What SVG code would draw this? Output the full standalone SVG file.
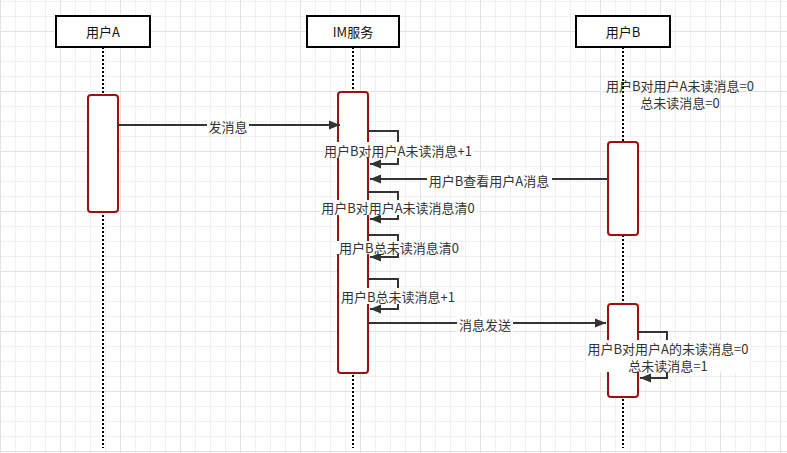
<svg xmlns="http://www.w3.org/2000/svg" width="787" height="453" viewBox="0 0 787 453">
<style>
text{font-family:"Noto Sans CJK SC","Noto Sans",sans-serif;font-size:13px;fill:#333;text-anchor:middle;dominant-baseline:central}
.title{fill:#111}
.head{fill:#fff;stroke:#000;stroke-width:2}
.life{stroke:#000;stroke-width:2;stroke-dasharray:2 2;fill:none}
.act{fill:#fff;stroke:#9b1111;stroke-width:2}
.msg{fill:none;stroke:#333;stroke-width:2;marker-end:url(#arr)}
.bg{fill:#fff}
</style>
<defs>
<pattern id="gMinor" patternUnits="userSpaceOnUse" x="0" y="1" width="15" height="15">
<path d="M0.5 0V15M0 0.5H15" stroke="#f0f0f0" stroke-width="1" fill="none"/>
</pattern>
<pattern id="gMajor" patternUnits="userSpaceOnUse" x="0" y="31" width="60" height="60">
<path d="M0.5 0V60M0 0.5H60" stroke="#e2e2e2" stroke-width="1" fill="none"/>
</pattern>
<marker id="arr" markerUnits="userSpaceOnUse" markerWidth="14" markerHeight="12" refX="11" refY="5" orient="auto">
<path d="M0 0.5L11 5L0 9.5z" fill="#333"/>
</marker>
</defs>
<rect width="787" height="453" fill="#fff"/>
<rect width="787" height="453" fill="url(#gMinor)"/>
<rect width="787" height="453" fill="url(#gMajor)"/>

<g id="lifelines">
<line class="life" x1="103" y1="47" x2="103" y2="448"/>
<line class="life" x1="353" y1="47" x2="353" y2="448"/>
<line class="life" x1="623" y1="47" x2="623" y2="448"/>
</g>

<g id="userA">
<rect class="head" x="56" y="16" width="94" height="31"/>
<text class="title" x="103" y="31.5">用户A</text>
</g>
<g id="im">
<rect class="head" x="307" y="16" width="92" height="31"/>
<text class="title" x="353" y="31.5">IM服务</text>
</g>
<g id="userB">
<rect class="head" x="576" y="16" width="94" height="31"/>
<text class="title" x="623" y="31.5">用户B</text>
</g>

<g id="actA"><rect class="act" x="88" y="95" width="30" height="117" rx="3"/></g>
<g id="actIM"><rect class="act" x="338" y="92" width="30" height="281" rx="3"/></g>
<g id="actB1"><rect class="act" x="608" y="142" width="30" height="93" rx="3"/></g>
<g id="actB2"><rect class="act" x="608" y="304" width="30" height="93" rx="3"/></g>

<g id="noteB">
<text x="680" y="85.5">用户B对用户A未读消息=0</text>
<text x="680" y="102.5">总未读消息=0</text>
</g>

<g id="connectors">
<path class="msg" d="M118 125H340"/>
<rect class="bg" x="207" y="118" width="42" height="16"/>
<text x="228" y="126">发消息</text>

<path class="msg" d="M368 131H398V164H370"/>
<rect class="bg" x="324" y="142" width="149" height="16"/>
<text x="398" y="150">用户B对用户A未读消息+1</text>

<path class="msg" d="M608 179H370"/>
<rect class="bg" x="427" y="171" width="125" height="16"/>
<text x="489" y="180">用户B查看用户A消息</text>

<path class="msg" d="M368 192H398V219H370"/>
<rect class="bg" x="320" y="200" width="157" height="15"/>
<text x="398" y="207">用户B对用户A未读消息清0</text>

<path class="msg" d="M368 235H398V257H370"/>
<rect class="bg" x="337" y="241" width="123" height="13"/>
<text x="399" y="247.5">用户B总未读消息清0</text>

<path class="msg" d="M368 279H398V309H370"/>
<rect class="bg" x="340" y="288" width="117" height="16"/>
<text x="398" y="296">用户B总未读消息+1</text>

<path class="msg" d="M368 323H606"/>
<rect class="bg" x="457" y="316" width="56" height="16"/>
<text x="485" y="324">消息发送</text>

<path class="msg" d="M638 332H667V378H640"/>
<rect class="bg" x="586" y="340" width="164" height="32"/>
<text x="668" y="348.5">用户B对用户A的未读消息=0</text>
<text x="668" y="365.5">总未读消息=1</text>
</g>
</svg>
